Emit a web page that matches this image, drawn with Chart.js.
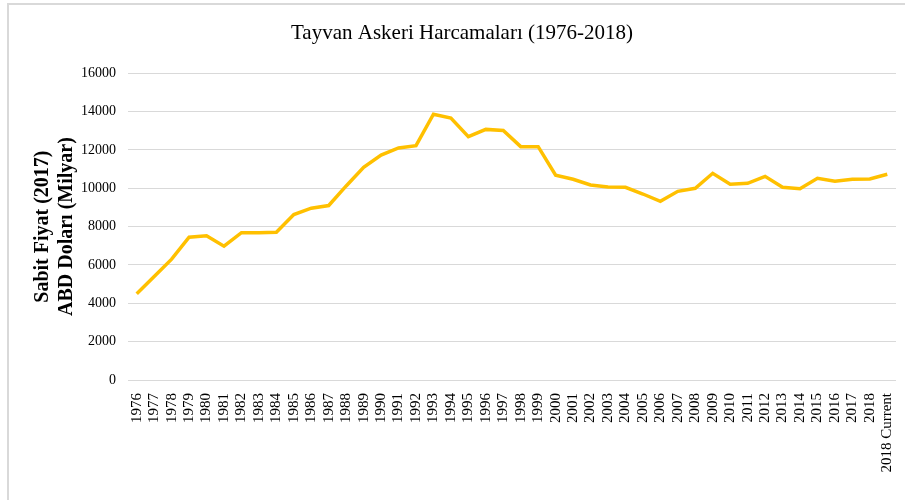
<!DOCTYPE html>
<html>
<head>
<meta charset="utf-8">
<script src="https://cdn.jsdelivr.net/npm/chart.js@4/dist/chart.umd.min.js"></script>
<style>
    html, body { margin: 0; padding: 0; background: #fff; }
    #wrap { position: relative; width: 905px; height: 500px; overflow: hidden; }
    #frame {
        position: absolute; left: 7px; top: 3px; width: 920px; height: 520px;
        border-left: 2px solid #d9d9d9; border-top: 2px solid #d9d9d9;
    }
    canvas { position: absolute; left: 0; top: 0; }
</style>
</head>
<body>
<div id="wrap">
    <div id="frame"></div>
    <canvas id="taiwan-chart" width="905" height="500"></canvas>
</div>
<script>
const years = [
    '1976', '1977', '1978', '1979', '1980', '1981', '1982', '1983', '1984', '1985',
    '1986', '1987', '1988', '1989', '1990', '1991', '1992', '1993', '1994', '1995',
    '1996', '1997', '1998', '1999', '2000', '2001', '2002', '2003', '2004', '2005',
    '2006', '2007', '2008', '2009', '2010', '2011', '2012', '2013', '2014', '2015',
    '2016', '2017', '2018', '2018 Current'
];

// milyon ABD doları, 2017 sabit fiyat
const spending = [
    4500, 5400, 6300, 7450, 7520, 6980, 7680, 7680, 7710, 8630,
    8960, 9100, 10120, 11090, 11730, 12100, 12220, 13860, 13660, 12690,
    13070, 13010, 12170, 12170, 10680, 10470, 10170, 10070, 10050, 9700,
    9320, 9840, 10000, 10780, 10210, 10260, 10620, 10050, 9980, 10520,
    10360, 10470, 10480, 10730
];

const chartTitle = 'Tayvan Askeri Harcamaları (1976-2018)';
const yAxisTitle = ['Sabit Fiyat (2017)', 'ABD Doları (Milyar)'];

const serif = '"Liberation Serif", "Times New Roman", serif';

new Chart(document.getElementById('taiwan-chart'), {
    type: 'line',
    data: {
        labels: years,
        datasets: [
            {
                label: 'Harcama',
                data: spending,
                borderColor: '#ffc000',
                borderWidth: 3.5,
                pointRadius: 0,
                tension: 0,
                fill: false
            }
        ]
    },
    options: {
        responsive: false,
        animation: false,
        layout: {
            padding: { left: 28, right: 9, top: 0, bottom: 0 }
        },
        plugins: {
            legend: { display: false },
            tooltip: { enabled: false },
            title: {
                display: true,
                text: chartTitle,
                color: '#000',
                font: { family: serif, size: 21, weight: 'normal' },
                padding: { top: 21, bottom: 27 }
            }
        },
        scales: {
            x: {
                offset: true,
                grid: { display: false },
                border: { display: false },
                ticks: {
                    autoSkip: false,
                    minRotation: 90,
                    maxRotation: 90,
                    padding: 5,
                    color: '#000',
                    font: { family: serif, size: 15 }
                },
                afterFit(scale) {
                    scale.height = 120;
                    scale.paddingRight = 0;
                }
            },
            y: {
                min: 0,
                max: 16000,
                grid: { color: '#d9d9d9', lineWidth: 1, drawTicks: false },
                border: { display: false },
                ticks: {
                    stepSize: 2000,
                    padding: 12,
                    color: '#000',
                    font: { family: serif, size: 14 },
                    callback: value => String(value)
                },
                title: {
                    display: true,
                    text: yAxisTitle,
                    color: '#000',
                    font: { family: serif, size: 20, weight: 'bold' },
                    padding: { top: 3, bottom: 0 }
                },
                afterFit(scale) {
                    scale.width = 100;
                }
            }
        }
    }
});
</script>
</body>
</html>
